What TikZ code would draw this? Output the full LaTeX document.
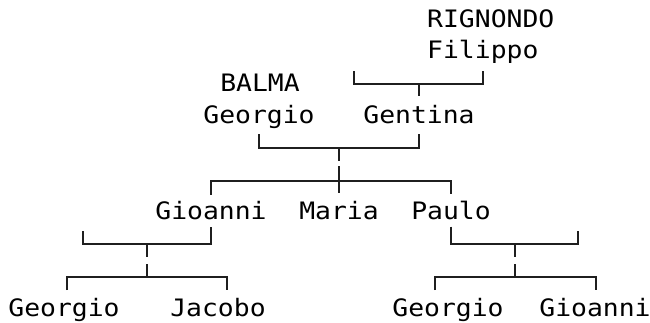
\documentclass[tikz,border=0pt]{standalone}
\usepackage{fontspec}
\setmonofont[FakeStretch=1.1]{DejaVu Sans Mono}
\usepackage{tikz}

\begin{document}
\begin{tikzpicture}[x=1pt, y=-1pt,
  person/.style={font=\ttfamily\fontsize{24}{28}\selectfont, inner sep=0pt, anchor=base},
  link/.style={line width=1.9pt, draw=black!88},
 ]
\useasboundingbox (0,0) rectangle (650,322);

\node[person, anchor=base west] (rig) at (427,27) {RIGNONDO};
\node[person, anchor=base west] (fil) at (427,58) {Filippo};
\node[person] (bal) at (260,91) {BALMA};
\node[person] (geo) at (259,123) {Georgio};
\node[person] (gen) at (419,123) {Gentina};
\node[person] (gio) at (211,219) {Gioanni};
\node[person] (mar) at (339,219) {Maria};
\node[person] (pau) at (451,219) {Paulo};
\node[person] (geoa) at (64,316) {Georgio};
\node[person] (jac) at (218,316) {Jacobo};
\node[person] (geob) at (448,316) {Georgio};
\node[person] (giob) at (595,316) {Gioanni};

\coordinate (fa1) at (354,84);
\coordinate (fa2) at (483,84);
\coordinate (fa) at (419,84);
\draw[link] (fa1) ++(0,-13) -- (fa1) -- (fa2) -- ++(0,-13);
\draw[link] (fa) -- ++(0,12);

\coordinate (fb1) at (259,148);
\coordinate (fb2) at (419,148);
\coordinate (fb) at (339,148);
\coordinate (kb) at (339,181);
\draw[link] (fb1) ++(0,-14) -- (fb1) -- (fb2) -- ++(0,-14);
\draw[link] (fb) -- ++(0,13);
\draw[link] (kb) ++(0,-15) -- (mar.north |- kb) -- ++(0,12);
\draw[link] (gio.north) ++(0,-6) |- (kb) -| ([yshift=6pt]pau.north);

\coordinate (fc1) at (83,244);
\coordinate (fc) at (147,244);
\coordinate (kc) at (147,277);
\coordinate (kc1) at (67,277);
\coordinate (kc2) at (227,277);
\draw[link] (fc1) ++(0,-13) -- (fc1) -| ([yshift=-7pt]gio.south);
\draw[link] (fc) -- ++(0,13);
\draw[link] (kc) ++(0,-13) -- (kc);
\draw[link] (kc1) ++(0,13) -- (kc1) -- (kc2) -- ++(0,13);

\coordinate (fd2) at (578,244);
\coordinate (fd) at (515,244);
\coordinate (kd) at (515,277);
\coordinate (kd1) at (435,277);
\coordinate (kd2) at (596,277);
\draw[link] ([yshift=-7pt]pau.south) |- (fd2) -- ++(0,-13);
\draw[link] (fd) -- ++(0,13);
\draw[link] (kd) ++(0,-13) -- (kd);
\draw[link] (kd1) ++(0,13) -- (kd1) -- (kd2) -- ++(0,13);
\end{tikzpicture}
\end{document}
